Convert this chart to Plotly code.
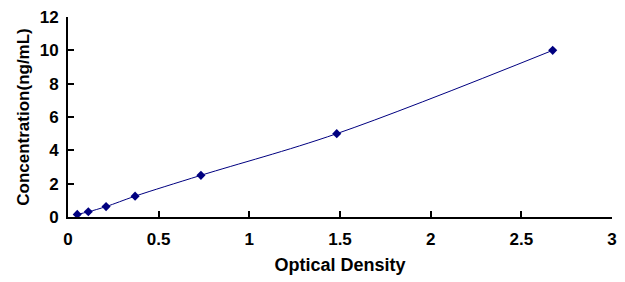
import plotly.graph_objects as go

od = [0.051, 0.112, 0.21, 0.37, 0.733, 1.482, 2.673]
conc = [0.156, 0.312, 0.625, 1.25, 2.5, 5, 10]
x_ticks = [0, 0.5, 1, 1.5, 2, 2.5, 3]
x_labels = ["0", "0.5", "1", "1.5", "2", "2.5", "3"]
y_ticks = [0, 2, 4, 6, 8, 10, 12]
y_labels = ["0", "2", "4", "6", "8", "10", "12"]

fig = go.Figure()
fig.add_trace(go.Scatter(
    x=od, y=conc, mode="lines+markers",
    line=dict(color="#000080", width=1, shape="spline"),
    marker=dict(symbol="diamond", size=7, color="#000080"),
    showlegend=False,
))

fam = "Arial, Liberation Sans, sans-serif"
fig.update_layout(
    width=625, height=282,
    margin=dict(l=68, r=13, t=17, b=65),
    paper_bgcolor="white", plot_bgcolor="white",
    font=dict(family=fam, size=17, color="black"),
)
fig.update_xaxes(
    range=[0, 3], tickvals=x_ticks, ticktext=["<b>%s</b>" % t for t in x_labels],
    showgrid=False, zeroline=False, automargin=False,
    showline=True, linecolor="black", linewidth=2,
    ticks="inside", ticklen=6, tickwidth=2, tickcolor="black",
    ticklabelstandoff=6,
    tickfont=dict(family=fam, size=17, color="black"),
    title=dict(text="<b>Optical Density</b>", standoff=10,
               font=dict(family=fam, size=18, color="black")),
)
fig.update_yaxes(
    range=[0, 12], tickvals=y_ticks, ticktext=["<b>%s</b>" % t for t in y_labels],
    showgrid=False, zeroline=False, automargin=False,
    showline=True, linecolor="black", linewidth=2,
    ticks="inside", ticklen=6, tickwidth=2, tickcolor="black",
    ticklabelstandoff=4,
    tickfont=dict(family=fam, size=17, color="black"),
    title=dict(text="<b>Concentration(ng/mL)</b>", standoff=6,
               font=dict(family=fam, size=17, color="black")),
)

fig.write_html("out.html")
